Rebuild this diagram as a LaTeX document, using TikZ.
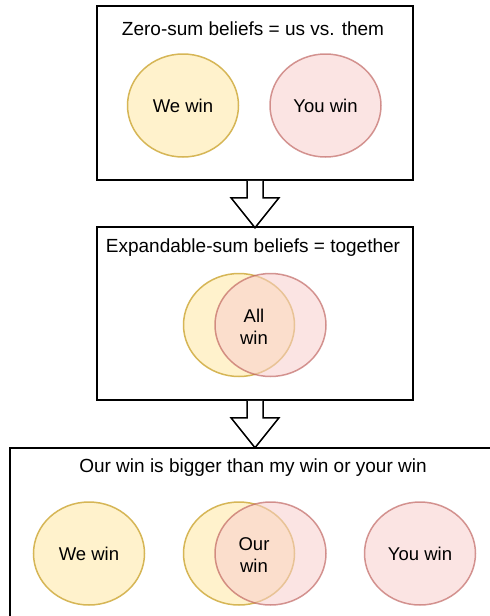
\documentclass[tikz,border=0pt]{standalone}
\usepackage{fontspec}
\setmainfont{Liberation Sans}
\usetikzlibrary{shapes.geometric,calc}
\definecolor{yfill}{HTML}{FFF2CC}
\definecolor{ydraw}{HTML}{D6B656}
\definecolor{pfill}{HTML}{F8CECC}
\definecolor{pdraw}{HTML}{B85450}
\tikzset{
  panel/.style={draw=black, line width=1.5pt, fill=white, inner sep=0pt},
  ybub/.style={ellipse, draw=ydraw, fill=yfill, line width=1.5pt, minimum width=111pt, minimum height=103pt, inner sep=0pt, align=center, font=\fontsize{18.5}{21.5}\selectfont},
  pbub/.style={ellipse, draw=pdraw, draw opacity=0.6, fill=pfill, fill opacity=0.55, text opacity=1, line width=1.5pt, minimum width=111pt, minimum height=103pt, inner sep=0pt, align=center, font=\fontsize{18.5}{21.5}\selectfont},
  ttl/.style={font=\fontsize{19}{22}\selectfont, inner sep=0pt},
  bigarrow/.style={draw=black, line width=1.5pt, fill=white, line join=miter}
}
\begin{document}
\begin{tikzpicture}[x=1pt,y=-1pt]
\useasboundingbox (0,0) rectangle (490,616);
% panels
\node[panel, minimum width=316pt, minimum height=174pt] (p1) at (255,93) {};
\node[panel, minimum width=316pt, minimum height=173pt] (p2) at (255,313.5) {};
\node[panel, minimum width=490pt, minimum height=180pt, anchor=north west] (p3) at (9,447) {};
% titles
\node[ttl] (t1) at (253,29) {Zero-sum beliefs = us vs. them};
\node[ttl] (t2) at (253,248) {Expandable-sum beliefs = together};
\node[ttl] (t3) at (253,468) {Our win is bigger than my win or your win};
% panel 1
\node[ybub] (we1) at (183,105.5) {We win};
\node[pbub] (you1) at (325.5,105.5) {You win};
% panel 2
\node[ybub] (vy2) at (239,325) {};
\node[pbub] (vp2) at (270.5,325) {};
\node[align=center, font=\fontsize{18.5}{21.5}\selectfont, inner sep=0pt] (all) at (254,327) {All\\win};
% panel 3
\node[ybub] (we3) at (89,553.5) {We win};
\node[ybub] (vy3) at (239,553.5) {};
\node[pbub] (vp3) at (270.5,553.5) {};
\node[align=center, font=\fontsize{18.5}{21.5}\selectfont, inner sep=0pt] (our) at (254,555) {Our\\win};
\node[pbub] (you3) at (420,553.5) {You win};
% arrows
\draw[bigarrow] ($(p1.south)+(-8,0)$) -- ($(p1.south)+(-8,17)$) -- ($(p1.south)+(-24,17)$) -- ($(p1.south)+(0,47)$) -- ($(p1.south)+(24,17)$) -- ($(p1.south)+(8,17)$) -- ($(p1.south)+(8,0)$);
\draw[bigarrow] ($(p2.south)+(-8,0)$) -- ($(p2.south)+(-8,17)$) -- ($(p2.south)+(-24,17)$) -- ($(p2.south)+(0,47)$) -- ($(p2.south)+(24,17)$) -- ($(p2.south)+(8,17)$) -- ($(p2.south)+(8,0)$);
\end{tikzpicture}
\end{document}
